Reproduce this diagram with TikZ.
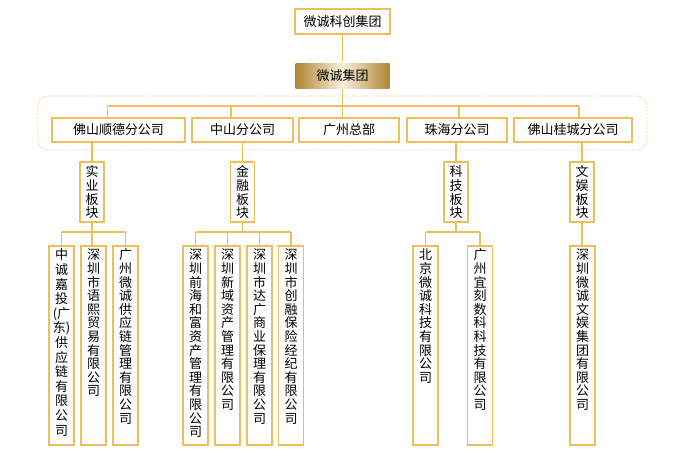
\documentclass[tikz,border=0pt]{standalone}
\usepackage{fontspec}
\setmainfont{Noto Sans CJK SC}
\usetikzlibrary{positioning,calc}
\definecolor{gold}{RGB}{239,189,92}
\definecolor{darkgold}{RGB}{176,134,50}
\definecolor{cream}{RGB}{248,240,222}
\definecolor{dashgold}{RGB}{245,208,135}

\begin{document}
\begin{tikzpicture}[x=1pt,y=-1pt,
  box/.style={draw=gold,line width=1.6pt,fill=white,minimum height=24pt,inner sep=0pt,font=\fontsize{13}{13.6}\selectfont},
  column/.style={box,anchor=north,execute at begin node={\begin{minipage}[t]{20pt}\centering},execute at end node={\end{minipage}}},
  plate/.style={column,minimum width=24pt,text height=12pt,text depth=42pt,inner ysep=3pt},
  leaf/.style={column,minimum width=25pt,text height=12pt,text depth=183pt,inner ysep=2pt},
  link/.style={draw=gold,line width=1.5pt}]
  \useasboundingbox (0,0) rectangle (686,458);

  % frame round the branches
  \draw[dashgold,line width=0.7pt,dash pattern=on 2pt off 1.5pt,rounded corners=10pt] (38,96) rectangle (647,150);

  % group
  \node[box,minimum width=95pt,minimum height=25pt] (top) at (342.5,21.5) {微诚科创集团};
  \node[box,draw=none,minimum width=94pt,minimum height=25pt,left color=darkgold,right color=darkgold,middle color=cream] (hq) at (342.5,75.5) {微诚集团};
  \draw[link] (top.south) -- (hq.north);

  % branches
  \node[box,minimum width=133pt] (sd) at (118.5,130) {佛山顺德分公司};
  \node[box,minimum width=101pt] (zs) at (242.5,130) {中山分公司};
  \node[box,minimum width=100pt] (gz) at (349,130) {广州总部};
  \node[box,minimum width=100pt] (zh) at (457,130) {珠海分公司};
  \node[box,minimum width=118pt] (gc) at (573,130) {佛山桂城分公司};

  \coordinate (bus) at (0,106);
  \coordinate (sdtop) at ([xshift=-11pt]sd.north);
  \coordinate (zstop) at ([xshift=-11.5pt]zs.north);
  \coordinate (zhtop) at ([xshift=2pt]zh.north);
  \coordinate (gctop) at ([xshift=6pt]gc.north);
  \draw[link] (sdtop |- bus) -- (gctop |- bus);
  \foreach \n in {sdtop,zstop,zhtop,gctop}
    \draw[link] (\n) -- (\n |- bus);
  \draw[link] (hq.south) -- (hq.south |- gz.north);

  % sectors
  \node[plate] (sy) at (92,161) {实\\业\\板\\块};
  \node[plate] (jr) at (242.5,161) {金\\融\\板\\块};
  \node[plate] (kj) at (456,161) {科\\技\\板\\块};
  \node[plate] (wy) at (582,161) {文\\娱\\板\\块};
  \draw[link] (sy.north) -- (sy.north |- sd.south);
  \draw[link] (jr.north) -- (jr.north |- zs.south);
  \draw[link] (kj.north) -- (kj.north |- zh.south);
  \draw[link] (wy.north) -- (wy.north |- gc.south);

  % companies
  \node[leaf,font=\fontsize{13}{14.6}\selectfont] (l1) at (61.5,245) {中\\诚\\嘉\\投\\(广\\东)\\供\\应\\链\\有\\限\\公\\司};
  \node[leaf] (l2) at (93.5,245) {深\\圳\\市\\语\\熙\\贸\\易\\有\\限\\公\\司};
  \node[leaf] (l3) at (125.5,245) {广\\州\\微\\诚\\供\\应\\链\\管\\理\\有\\限\\公\\司};

  \node[leaf] (j1) at (195.5,245) {深\\圳\\前\\海\\和\\富\\资\\产\\管\\理\\有\\限\\公\\司};
  \node[leaf] (j2) at (227.5,245) {深\\圳\\新\\域\\资\\产\\管\\理\\有\\限\\公\\司};
  \node[leaf] (j3) at (259.5,245) {深\\圳\\市\\达\\广\\商\\业\\保\\理\\有\\限\\公\\司};
  \node[leaf] (j4) at (291,245) {深\\圳\\市\\创\\融\\保\\险\\经\\纪\\有\\限\\公\\司};

  \node[leaf] (k1) at (425.5,245) {北\\京\\微\\诚\\科\\技\\有\\限\\公\\司};
  \node[leaf] (k2) at (480,245) {广\\州\\宜\\刻\\数\\科\\科\\技\\有\\限\\公\\司};

  \node[leaf] (w1) at (582.5,245) {深\\圳\\微\\诚\\文\\娱\\集\\团\\有\\限\\公\\司};

  \coordinate (lbus) at (0,232);
  \draw[link] (sy.south) -- (sy.south |- l2.north);
  \draw[link] (l1.north |- lbus) -- (l3.north |- lbus);
  \foreach \n in {l1,l3}
    \draw[link] (\n.north) -- (\n.north |- lbus);

  \draw[link] (jr.south) -- (jr.south |- lbus);
  \draw[link] (j1.north |- lbus) -- (j4.north |- lbus);
  \foreach \n in {j1,j2,j3,j4}
    \draw[link] (\n.north) -- (\n.north |- lbus);

  \draw[link] (kj.south) -- (kj.south |- lbus);
  \draw[link] (k1.north |- lbus) -- (k2.north |- lbus);
  \foreach \n in {k1,k2}
    \draw[link] (\n.north) -- (\n.north |- lbus);

  \draw[link] (wy.south) -- (wy.south |- w1.north);

\end{tikzpicture}
\end{document}
